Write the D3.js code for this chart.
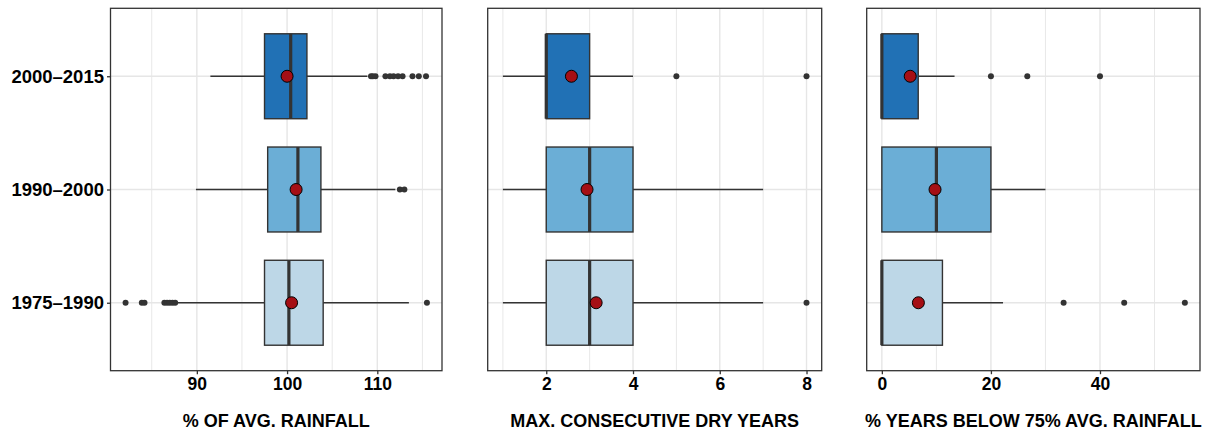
<!DOCTYPE html>
<html>
<head>
<meta charset="utf-8">
<script src="https://cdn.jsdelivr.net/npm/d3@7"></script>
<style>
  body { margin: 0; background: #fff; }
  svg text { font-family: "Liberation Sans", Arial, Helvetica, sans-serif; font-weight: bold; fill: #000; }
</style>
</head>
<body>
<svg width="1213" height="432"></svg>
<script>
// periods, top to bottom
var periods = ["2000–2015", "1990–2000", "1975–1990"];
var fills = ["#2171b5", "#6baed6", "#bdd7e7"];

// box stats per period: [whisker low, q1, median, q3, whisker high]
var rainBox = [[91.5, 97.5, 100.4, 102.2, 108.9], [89.9, 97.85, 101.2, 103.75, 112.0], [87.8, 97.5, 100.2, 104.0, 113.5]];
var rainMean = [100.0, 101.0, 100.5];
var rainOut = [
  [109.3, 109.5, 109.8, 110.9, 111.4, 111.8, 112.3, 112.8, 113.9, 114.6, 115.4],
  [112.5, 113.0],
  [82.1, 83.9, 84.2, 86.4, 86.7, 87.0, 87.3, 87.6, 115.5]
];

var dryBox = [[1, 2, 2, 3, 4], [1, 2, 3, 4, 7], [1, 2, 3, 4, 7]];
var dryMean = [2.58, 2.94, 3.15];
var dryOut = [[5, 8], [], [8]];

var belowBox = [[0, 0, 0, 6.67, 13.33], [0, 0, 10, 20, 30], [0, 0, 0, 11.11, 22.22]];
var belowMean = [5.2, 9.75, 6.7];
var belowOut = [[20, 26.67, 40], [], [33.33, 44.44, 55.56]];

var rainTicks = [90, 100, 110], rainMinor = [85, 95, 105, 115];
var dryTicks = [2, 4, 6, 8], dryMinor = [1, 3, 5, 7];
var belowTicks = [0, 20, 40], belowMinor = [10, 30, 50];

var titles = ["% OF AVG. RAINFALL", "MAX. CONSECUTIVE DRY YEARS", "% YEARS BELOW 75% AVG. RAINFALL"];

var panels = [
  {x0: 110.5, x1: 442,   box: rainBox,  mean: rainMean,  out: rainOut,  ticks: rainTicks,  minor: rainMinor,  title: titles[0], yaxis: true},
  {x0: 487.7, x1: 821.7, box: dryBox,   mean: dryMean,   out: dryOut,   ticks: dryTicks,   minor: dryMinor,   title: titles[1]},
  {x0: 866.7, x1: 1200,  box: belowBox, mean: belowMean, out: belowOut, ticks: belowTicks, minor: belowMinor, title: titles[2]}
];

var svg = d3.select("svg"),
    plotTop = 8.3, plotBottom = 370.7;

var y = d3.scalePoint().domain(periods).range([plotTop, plotBottom]).padding(0.6);
var boxH = y.step() * 0.75;

panels.forEach(function(p) {
  var all = [];
  p.box.forEach(function(b) { all = all.concat(b); });
  p.out.forEach(function(o) { all = all.concat(o); });
  var ext = d3.extent(all), pad = (ext[1] - ext[0]) * 0.05;
  var x = d3.scaleLinear().domain([ext[0] - pad, ext[1] + pad]).range([p.x0, p.x1]);

  var g = svg.append("g");

  // grid
  g.selectAll(".minor").data(p.minor).enter().append("line")
    .attr("x1", function(d) { return x(d); }).attr("x2", function(d) { return x(d); })
    .attr("y1", plotTop).attr("y2", plotBottom)
    .attr("stroke", "#e8e8e8").attr("stroke-width", 1);
  g.selectAll(".major").data(p.ticks).enter().append("line")
    .attr("x1", function(d) { return x(d); }).attr("x2", function(d) { return x(d); })
    .attr("y1", plotTop).attr("y2", plotBottom)
    .attr("stroke", "#e6e6e6").attr("stroke-width", 1.4);
  g.selectAll(".hgrid").data(periods).enter().append("line")
    .attr("x1", p.x0).attr("x2", p.x1)
    .attr("y1", function(d) { return y(d); }).attr("y2", function(d) { return y(d); })
    .attr("stroke", "#e6e6e6").attr("stroke-width", 1.4);

  periods.forEach(function(per, i) {
    var b = p.box[i], cy = y(per);
    // whiskers
    g.append("line").attr("x1", x(b[0])).attr("x2", x(b[1])).attr("y1", cy).attr("y2", cy)
      .attr("stroke", "#333").attr("stroke-width", 1.7);
    g.append("line").attr("x1", x(b[3])).attr("x2", x(b[4])).attr("y1", cy).attr("y2", cy)
      .attr("stroke", "#333").attr("stroke-width", 1.7);
    // box
    g.append("rect").attr("x", x(b[1])).attr("y", cy - boxH / 2)
      .attr("width", x(b[3]) - x(b[1])).attr("height", boxH)
      .attr("fill", fills[i]).attr("stroke", "#333").attr("stroke-width", 1.4);
    // median
    g.append("line").attr("x1", x(b[2])).attr("x2", x(b[2]))
      .attr("y1", cy - boxH / 2).attr("y2", cy + boxH / 2)
      .attr("stroke", "#333").attr("stroke-width", 3.2);
    // outliers
    g.selectAll(null).data(p.out[i]).enter().append("circle")
      .attr("cx", function(d) { return x(d); }).attr("cy", cy).attr("r", 3)
      .attr("fill", "#333");
    // mean
    g.append("circle").attr("cx", x(p.mean[i])).attr("cy", cy).attr("r", 6)
      .attr("fill", "#a50f15").attr("stroke", "#000").attr("stroke-width", 1);
  });

  // border
  g.append("rect").attr("x", p.x0).attr("y", plotTop)
    .attr("width", p.x1 - p.x0).attr("height", plotBottom - plotTop)
    .attr("fill", "none").attr("stroke", "#333").attr("stroke-width", 1.3);

  // x axis
  var ax = g.append("g").attr("transform", "translate(0," + plotBottom + ")")
    .call(d3.axisBottom(x).tickValues(p.ticks).tickSize(3.5).tickPadding(3).tickFormat(d3.format("d")));
  ax.select(".domain").remove();
  ax.selectAll(".tick line").attr("stroke", "#333").attr("stroke-width", 1.3);
  ax.selectAll(".tick text").attr("font-size", 17.5).attr("fill", "#000")
    .style("font-family", "'Liberation Sans', Arial, sans-serif").style("font-weight", "bold");

  g.append("text")
    .attr("x", (p.x0 + p.x1) / 2).attr("y", 427)
    .attr("text-anchor", "middle").attr("font-size", 18)
    .text(p.title);

  if (p.yaxis) {
    var ay = g.append("g").attr("transform", "translate(" + p.x0 + ",0)")
      .call(d3.axisLeft(y).tickSize(3.5).tickPadding(3));
    ay.select(".domain").remove();
    ay.selectAll(".tick line").attr("stroke", "#333").attr("stroke-width", 1.3);
    ay.selectAll(".tick text").attr("font-size", 18.5).attr("fill", "#000")
      .style("font-family", "'Liberation Sans', Arial, sans-serif").style("font-weight", "bold");
  }
});
</script>
</body>
</html>
